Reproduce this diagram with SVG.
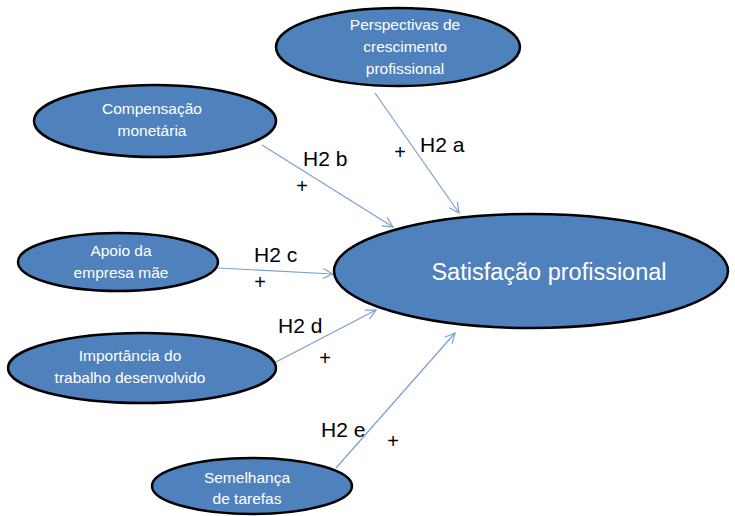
<svg xmlns="http://www.w3.org/2000/svg" width="735" height="516" viewBox="0 0 735 516">
<style>
.node ellipse{fill:#4f81bd;stroke:#000;stroke-width:2.5}
.node text{fill:#fff;font-family:"Liberation Sans",Arial,sans-serif;font-size:15.5px;text-anchor:middle}
.conn line{stroke:#7a9fd2;stroke-width:1.2;fill:none}
.lbl{font-family:"Liberation Sans",Arial,sans-serif;font-size:21px;fill:#000}
.plus{font-family:"Liberation Sans",Arial,sans-serif;font-size:20px;fill:#000;text-anchor:middle}
</style>
<defs>
<marker id="arr" viewBox="0 0 12 12" refX="11" refY="6" markerWidth="12" markerHeight="12" markerUnits="userSpaceOnUse" orient="auto">
<path d="M1,1 L11,6 L1,11" fill="none" stroke="#7a9fd2" stroke-width="1.2"/>
</marker>
</defs>
<rect width="735" height="516" fill="#fff"/>
<g id="connectors" class="conn">
<line x1="375" y1="93" x2="459" y2="213" marker-end="url(#arr)"/>
<line x1="262" y1="145" x2="393" y2="227" marker-end="url(#arr)"/>
<line x1="218" y1="268" x2="333" y2="274" marker-end="url(#arr)"/>
<line x1="276" y1="362" x2="376" y2="310" marker-end="url(#arr)"/>
<line x1="336" y1="468" x2="455" y2="333" marker-end="url(#arr)"/>
</g>
<g id="labels">
<text class="lbl" x="420" y="152">H2 a</text>
<text class="lbl" x="303" y="166">H2 b</text>
<text class="lbl" x="254" y="262">H2 c</text>
<text class="lbl" x="278" y="333">H2 d</text>
<text class="lbl" x="321" y="437">H2 e</text>
<text class="plus" x="400" y="159">+</text>
<text class="plus" x="302" y="193">+</text>
<text class="plus" x="260" y="289">+</text>
<text class="plus" x="325" y="365">+</text>
<text class="plus" x="393" y="448">+</text>
</g>
<g id="perspectivas" class="node">
<ellipse cx="398" cy="47" rx="122" ry="39"/>
<text x="405" y="30">Perspectivas de</text>
<text x="405" y="52">crescimento</text>
<text x="405" y="74">profissional</text>
</g>
<g id="compensacao" class="node">
<ellipse cx="155" cy="121" rx="121" ry="36"/>
<text x="152" y="114">Compensação</text>
<text x="152" y="136">monetária</text>
</g>
<g id="apoio" class="node">
<ellipse cx="118" cy="262" rx="100" ry="29"/>
<text x="121" y="256">Apoio da</text>
<text x="121" y="278">empresa mãe</text>
</g>
<g id="satisfacao" class="node">
<ellipse cx="531" cy="271" rx="197" ry="57"/>
<text x="549" y="280" style="font-size:23.5px">Satisfação profissional</text>
</g>
<g id="importancia" class="node">
<ellipse cx="142" cy="368" rx="134" ry="35"/>
<text x="130" y="361">Importância do</text>
<text x="130" y="383">trabalho desenvolvido</text>
</g>
<g id="semelhanca" class="node">
<ellipse cx="252" cy="486" rx="100" ry="28"/>
<text x="247" y="483">Semelhança</text>
<text x="247" y="504">de tarefas</text>
</g>
</svg>
